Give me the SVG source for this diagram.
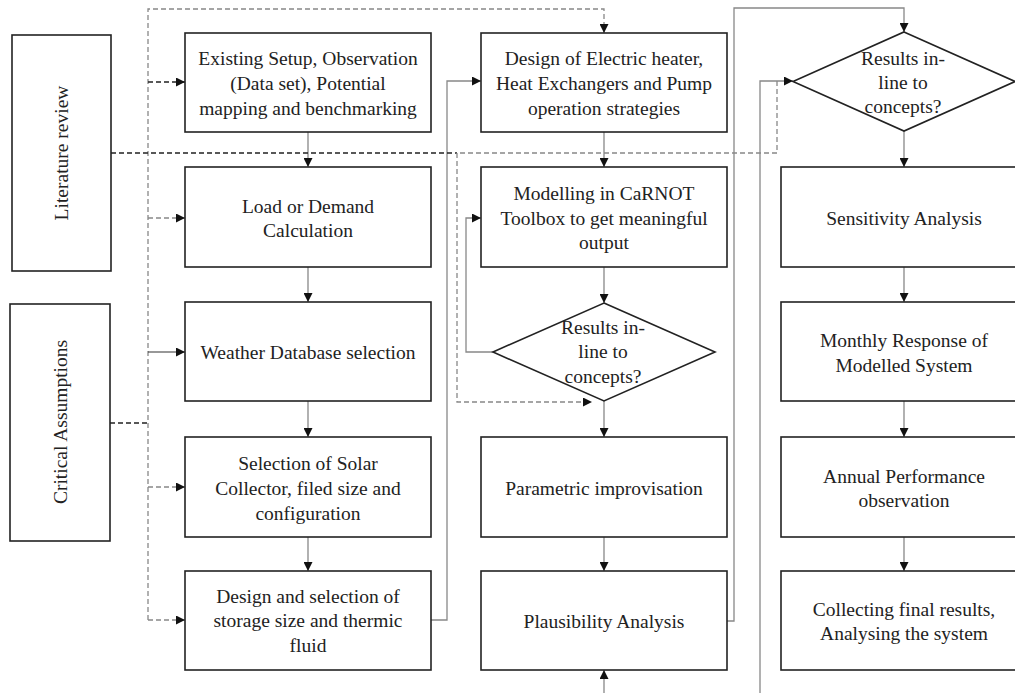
<svg xmlns="http://www.w3.org/2000/svg" width="1015" height="693" viewBox="0 0 1015 693">
<style>
.box{fill:#fff;stroke:#222;stroke-width:1.6}
.t{font-family:"Liberation Serif","Times New Roman",serif;font-size:19.5px;fill:#222;text-anchor:middle}
.ln{fill:none;stroke:#888;stroke-width:1.3}
.dg{fill:none;stroke:#888;stroke-width:1.3;stroke-dasharray:5,3}
.db{fill:none;stroke:#222;stroke-width:1.3;stroke-dasharray:5,3}
.sb{fill:none;stroke:#333;stroke-width:1.2}
</style>
<defs>
<marker id="ah" viewBox="0 0 10 10" refX="10" refY="5" markerWidth="9" markerHeight="9" markerUnits="userSpaceOnUse" orient="auto">
<path d="M0,0 L10,5 L0,10 z" fill="#111"/>
</marker>
</defs>
<rect width="1015" height="693" fill="#fff"/>

<g id="connectors">
<!-- column 1 flow -->
<path class="ln" d="M308,132 V167" marker-end="url(#ah)"/>
<path class="ln" d="M308,267 V302" marker-end="url(#ah)"/>
<path class="ln" d="M308,401 V437" marker-end="url(#ah)"/>
<path class="ln" d="M308,537 V571" marker-end="url(#ah)"/>
<!-- column 2 flow -->
<path class="ln" d="M604,132 V167" marker-end="url(#ah)"/>
<path class="ln" d="M604,267 V303" marker-end="url(#ah)"/>
<path class="ln" d="M604,401 V437" marker-end="url(#ah)"/>
<path class="ln" d="M604,537 V571" marker-end="url(#ah)"/>
<path class="ln" d="M604,693 V670" marker-end="url(#ah)"/>
<!-- column 3 flow -->
<path class="ln" d="M904,131 V167" marker-end="url(#ah)"/>
<path class="ln" d="M904,267 V302" marker-end="url(#ah)"/>
<path class="ln" d="M904,401 V437" marker-end="url(#ah)"/>
<path class="ln" d="M904,537 V571" marker-end="url(#ah)"/>
<!-- loops -->
<path class="ln" d="M431,620 H447 V81 H481" marker-end="url(#ah)"/>
<path class="ln" d="M493,352 H466 V218 H481" marker-end="url(#ah)"/>
<path class="ln" d="M727,621 H734 V8 H904 V32" marker-end="url(#ah)"/>
<path class="ln" d="M760,693 V81 H793" marker-end="url(#ah)"/>
<!-- dashed -->
<path class="dg" d="M148,620 V9 H604 V33" marker-end="url(#ah)"/>
<path class="db" d="M148,82 H185" marker-end="url(#ah)"/>
<path class="dg" d="M148,218 H185" marker-end="url(#ah)"/>
<path class="sb" d="M148,352 H185" marker-end="url(#ah)"/>
<path class="dg" d="M148,487 H185" marker-end="url(#ah)"/>
<path class="dg" d="M148,620 H185" marker-end="url(#ah)"/>
<path class="db" d="M110,423 H148"/>
<path class="db" d="M111,153 H457"/>
<path class="dg" d="M777,81 V153 H457 V402 H592" marker-end="url(#ah)"/>
</g>

<g id="lit"><rect class="box" x="12" y="35" width="99" height="236"/><text class="t" transform="translate(68,153) rotate(-90)">Literature review</text></g>
<g id="crit"><rect class="box" x="10" y="304" width="100" height="237"/><text class="t" transform="translate(67,422) rotate(-90)">Critical Assumptions</text></g>

<g id="n1"><rect class="box" x="185" y="33" width="246" height="99"/><text class="t" x="308" y="65">Existing Setup, Observation</text><text class="t" x="308" y="90">(Data set), Potential</text><text class="t" x="308" y="115">mapping and benchmarking</text></g>
<g id="n2"><rect class="box" x="185" y="167" width="246" height="100"/><text class="t" x="308" y="213">Load or Demand</text><text class="t" x="308" y="237">Calculation</text></g>
<g id="n3"><rect class="box" x="185" y="302" width="246" height="99"/><text class="t" x="308" y="359">Weather Database selection</text></g>
<g id="n4"><rect class="box" x="185" y="437" width="246" height="100"/><text class="t" x="308" y="470">Selection of Solar</text><text class="t" x="308" y="495">Collector, filed size and</text><text class="t" x="308" y="520">configuration</text></g>
<g id="n5"><rect class="box" x="185" y="571" width="246" height="99"/><text class="t" x="308" y="603">Design and selection of</text><text class="t" x="308" y="627">storage size and thermic</text><text class="t" x="308" y="652">fluid</text></g>

<g id="m1"><rect class="box" x="481" y="33" width="246" height="99"/><text class="t" x="604" y="65">Design of Electric heater,</text><text class="t" x="604" y="90">Heat Exchangers and Pump</text><text class="t" x="604" y="115">operation strategies</text></g>
<g id="m2"><rect class="box" x="481" y="167" width="246" height="100"/><text class="t" x="604" y="200">Modelling in CaRNOT</text><text class="t" x="604" y="225">Toolbox to get meaningful</text><text class="t" x="604" y="249">output</text></g>
<g id="m3"><polygon class="box" points="604,303 715,352 604,401 493,352"/><text class="t" x="603" y="334">Results in-</text><text class="t" x="603" y="358">line to</text><text class="t" x="603" y="383">concepts?</text></g>
<g id="m4"><rect class="box" x="481" y="437" width="246" height="100"/><text class="t" x="604" y="495">Parametric improvisation</text></g>
<g id="m5"><rect class="box" x="481" y="571" width="246" height="99"/><text class="t" x="604" y="628">Plausibility Analysis</text></g>

<g id="r1"><polygon class="box" points="904,32 1015,81.5 904,131 793,81.5"/><text class="t" x="903" y="65">Results in-</text><text class="t" x="903" y="89">line to</text><text class="t" x="903" y="113">concepts?</text></g>
<g id="r2"><rect class="box" x="781" y="167" width="246" height="100"/><text class="t" x="904" y="225">Sensitivity Analysis</text></g>
<g id="r3"><rect class="box" x="781" y="302" width="246" height="99"/><text class="t" x="904" y="347">Monthly Response of</text><text class="t" x="904" y="372">Modelled System</text></g>
<g id="r4"><rect class="box" x="781" y="437" width="246" height="100"/><text class="t" x="904" y="483">Annual Performance</text><text class="t" x="904" y="507">observation</text></g>
<g id="r5"><rect class="box" x="781" y="571" width="246" height="99"/><text class="t" x="904" y="616">Collecting final results,</text><text class="t" x="904" y="640">Analysing the system</text></g>
</svg>
